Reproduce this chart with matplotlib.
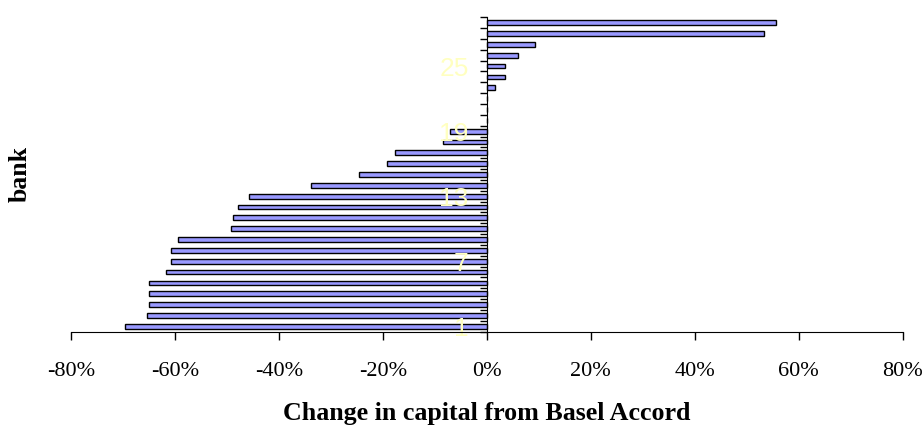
import numpy as np
import matplotlib
matplotlib.use("Agg")
import matplotlib.pyplot as plt
from matplotlib.ticker import FuncFormatter

# change in capital per bank (bank 1 at bottom), fraction
banks = list(range(1, 30))
change = [-0.696, -0.653, -0.650, -0.650, -0.650, -0.617, -0.608, -0.607, -0.593,
          -0.491, -0.488, -0.478, -0.458, -0.337, -0.246, -0.191, -0.176, -0.085,
          -0.071, 0.0, 0.0, 0.0, 0.015, 0.036, 0.036, 0.061, 0.092, 0.534, 0.556]
bank_labels = [1, 7, 13, 19, 25]
x_ticks = [-0.8, -0.6, -0.4, -0.2, 0.0, 0.2, 0.4, 0.6, 0.8]

fig = plt.figure(figsize=(9.22, 4.30), dpi=100)
ax = fig.add_axes([0.0767, 0.2286, 0.9024, 0.7312])

ax.barh(banks, change, height=0.44, color="#9999ff", edgecolor="black",
        linewidth=1.0)

ax.set_xlim(-0.8, 0.8)
ax.set_ylim(0.5, 29.5)

ax.spines["top"].set_visible(False)
ax.spines["right"].set_visible(False)
ax.spines["left"].set_position(("data", 0))

ax.set_xticks(x_ticks)
ax.xaxis.set_major_formatter(FuncFormatter(lambda v, p: "%d%%" % round(v * 100)))
ax.tick_params(axis="x", direction="out", length=6, width=1, pad=16)
for t in ax.get_xticklabels():
    t.set_fontfamily("Liberation Serif")
    t.set_fontsize(16)

# ticks between categories, labels every 6th bank
ax.set_yticks(np.arange(0.5, 30, 1.0))
ax.set_yticklabels([])
ax.tick_params(axis="y", which="major", direction="out", length=5, width=1)
ax.set_yticks(bank_labels, minor=True)
ax.set_yticklabels([str(b) for b in bank_labels], minor=True,
                   fontfamily="Liberation Sans", fontsize=19, color="#ffffc0")
ax.tick_params(axis="y", which="minor", length=0, pad=13)

fig.text(0.5277, 0.012, "Change in capital from Basel Accord", ha="center",
         va="bottom", fontfamily="Liberation Serif", fontweight="bold", fontsize=18.7)
fig.text(0.022, 0.596, "bank", ha="center", va="center", rotation=90,
         fontfamily="Liberation Serif", fontweight="bold", fontsize=18.5)

fig.savefig("out.png", dpi=100)
